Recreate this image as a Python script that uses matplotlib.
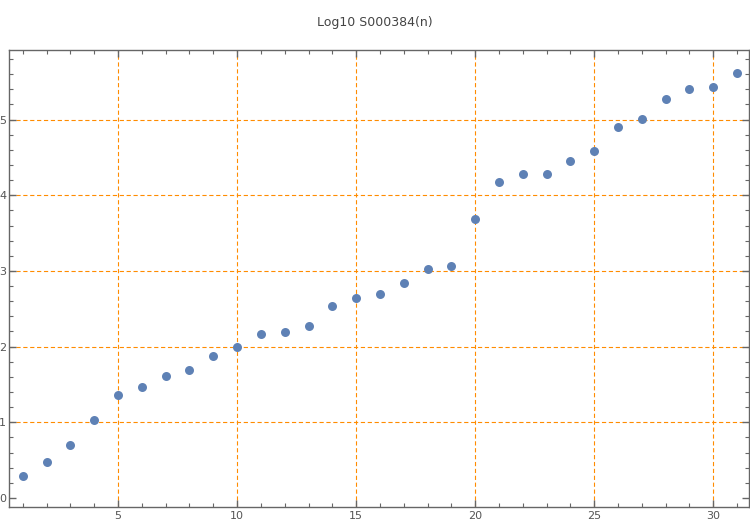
import matplotlib.pyplot as plt
import numpy as np
from matplotlib.ticker import MultipleLocator

# Log10 of S000384(n)
n = np.arange(1, 32)
log_vals = [0.29, 0.47, 0.70, 1.03, 1.36, 1.46, 1.61, 1.69, 1.87, 1.99,
            2.16, 2.19, 2.27, 2.53, 2.64, 2.70, 2.84, 3.03, 3.06, 3.69,
            4.17, 4.28, 4.28, 4.45, 4.58, 4.90, 5.01, 5.27, 5.41, 5.43, 5.61]
x_major = [5, 10, 15, 20, 25, 30]
y_major = [0, 1, 2, 3, 4, 5]

frame_col = '#666666'
grid_col = '#FF8C00'

fig = plt.figure(figsize=(7.5, 5.25), dpi=100)
ax = fig.add_axes([0.012, 0.0343, 0.9867, 0.8705])

ax.scatter(n, log_vals, s=42, color='#5E81B5', zorder=3, linewidths=0)

# dashed orange grid
for xv in x_major:
    ax.axvline(xv, color=grid_col, linestyle=(0, (3.8, 2.4)), linewidth=0.8, zorder=1)
for yv in y_major[1:]:
    ax.axhline(yv, color=grid_col, linestyle=(0, (3.8, 2.4)), linewidth=0.8, zorder=1)

ax.set_xlim(0.42, 31.5)
ax.set_ylim(-0.12, 5.92)
ax.set_xticks(x_major)
ax.set_yticks(y_major)
ax.xaxis.set_minor_locator(MultipleLocator(1))
ax.yaxis.set_minor_locator(MultipleLocator(0.2))

ax.tick_params(which='both', direction='in', top=True, right=True,
               color=frame_col, labelcolor='#555555', labelsize=8)
ax.tick_params(which='major', length=5, width=1, pad=3)
ax.tick_params(which='minor', length=3, width=0.8)
ax.tick_params(axis='y', pad=2)

for sp in ax.spines.values():
    sp.set_color(frame_col)
    sp.set_linewidth(1)

fig.text(0.5, 0.958, 'Log10 S000384(n)', ha='center', va='center',
         fontsize=9, color='#444444')

plt.savefig('out.png', dpi=100, facecolor='white')
plt.close()
